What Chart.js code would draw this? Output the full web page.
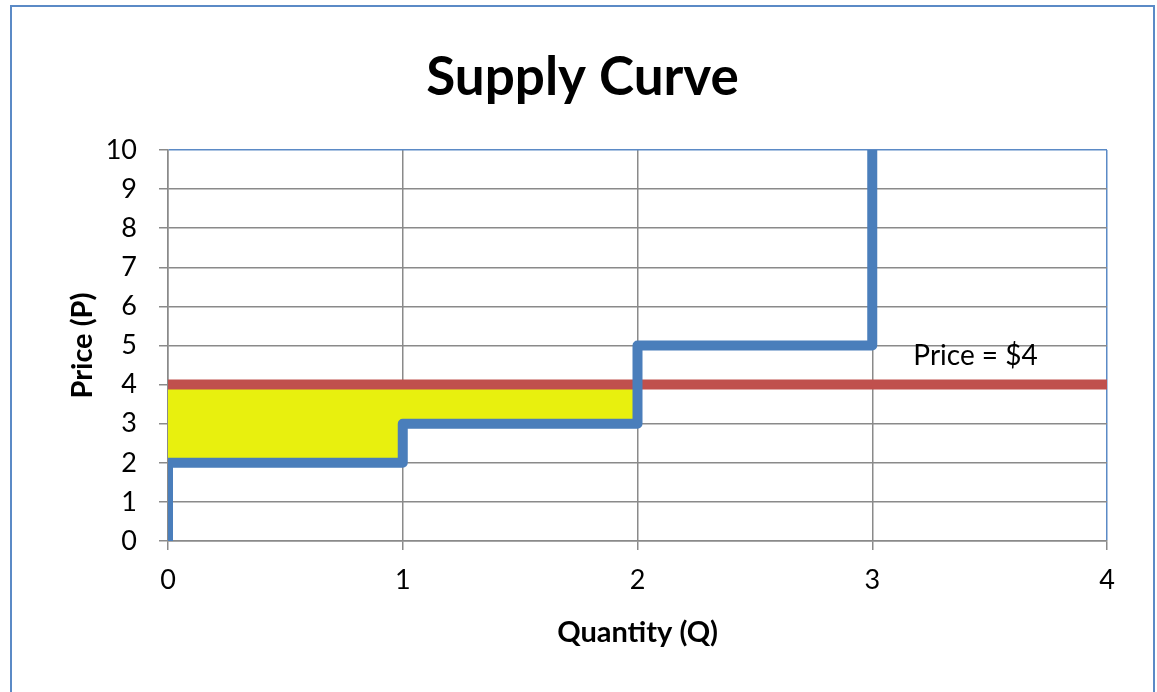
<!DOCTYPE html>
<html>
<head>
<meta charset="utf-8">
<script src="https://cdn.jsdelivr.net/npm/chart.js@4.4.1/dist/chart.umd.min.js"></script>
<style>
  body { margin: 0; background: #fff; overflow: hidden; }
  #wrap { position: relative; width: 1157px; height: 692px; }
  #frame { position: absolute; left: 10px; top: 5px; width: 1141px; height: 720px; border: 2px solid #5b8ac6; }
  canvas { position: absolute; left: 0; top: 0; }
</style>
</head>
<body>
<div id="wrap">
  <div id="frame"></div>
  <canvas id="myChart" width="1157" height="692"></canvas>
</div>
<script>
// supply curve steps
let supplyQ = [0, 0, 1, 1, 2, 2, 3, 3]
let supplyP = [0, 2, 2, 3, 3, 5, 5, 10]
// market price line
let priceQ = [0, 4]
let priceP = [4, 4]
// producer surplus (yellow), filled up to the price
let surplusQ = [0, 1, 1, 2]
let surplusP = [2, 2, 3, 3]
let precoMercado = 4
let xTicks = [0, 1, 2, 3, 4]
let yTicks = [0, 1, 2, 3, 4, 5, 6, 7, 8, 9, 10]
let rotuloPreco = "Price = $4"

function montarPontos(xs, ys) {
    let pts = []
    for (let i = 0; i < xs.length; i++) {
        pts.push({ x: xs[i], y: ys[i] })
    }
    return pts
}

const cinza = "#8a8a8a"
const azulBorda = "#5b8ac6"

// draws the "Price = $4" note at data coordinates
const rotuloPlugin = {
    id: "rotulo",
    afterDatasetsDraw(chart) {
        const ctx = chart.ctx
        const x = chart.scales.x.getPixelForValue(3.44)
        const y = chart.scales.y.getPixelForValue(4.72)
        ctx.save()
        ctx.font = "28px Lato"
        ctx.fillStyle = "#000"
        ctx.textAlign = "center"
        ctx.textBaseline = "middle"
        ctx.fillText(rotuloPreco, x, y)
        ctx.restore()
    }
}

const data = {
    datasets: [
        {
            label: "Supply",
            data: montarPontos(supplyQ, supplyP),
            borderColor: "#4a7ebb",
            borderWidth: 10,
            borderJoinStyle: "round",
            pointRadius: 0,
            fill: false,
            clip: 0,
            order: 1,
        },
        {
            label: "Price",
            data: montarPontos(priceQ, priceP),
            borderColor: "#c0504d",
            borderWidth: 10,
            pointRadius: 0,
            fill: false,
            clip: 0,
            order: 2,
        },
        {
            label: "Surplus",
            data: montarPontos(surplusQ, surplusP),
            borderWidth: 0,
            borderColor: "rgba(0,0,0,0)",
            backgroundColor: "#e8f00e",
            pointRadius: 0,
            fill: { value: precoMercado },
            clip: 0,
            order: 3,
        },
    ],
}

const config = {
    type: "line",
    data,
    plugins: [rotuloPlugin],
    options: {
        responsive: false,
        animation: false,
        layout: { padding: { left: 58, right: 50, top: 0, bottom: 41 } },
        plugins: {
            legend: { display: false },
            tooltip: { enabled: false },
            title: {
                display: true,
                text: "Supply Curve",
                color: "#000",
                font: { family: "Lato", size: 53, weight: "bold" },
                padding: { top: 46, bottom: 40.4 },
            },
        },
        scales: {
            x: {
                type: "linear",
                min: 0,
                max: 4,
                afterBuildTicks: (s) => { s.ticks = xTicks.map(v => ({ value: v })) },
                afterFit: (s) => { s.height = 110 },
                grid: {
                    color: (c) => c.tick && c.tick.value === 4 ? azulBorda : cinza,
                    tickColor: cinza,
                    lineWidth: 1.5,
                    tickLength: 9,
                },
                border: { color: cinza, width: 1.5 },
                ticks: {
                    color: "#000",
                    padding: 14,
                    font: { family: "Lato", size: 27 },
                },
                title: {
                    display: true,
                    text: "Quantity (Q)",
                    color: "#000",
                    font: { family: "Lato", size: 29, weight: "bold" },
                    padding: { top: 0, bottom: 1 },
                },
            },
            y: {
                min: 0,
                max: 10,
                afterBuildTicks: (s) => { s.ticks = yTicks.map(v => ({ value: v })) },
                afterFit: (s) => { s.width = 110 },
                grid: {
                    color: (c) => c.tick && c.tick.value === 10 ? azulBorda : cinza,
                    tickColor: cinza,
                    lineWidth: 1.5,
                    tickLength: 9,
                },
                border: { color: cinza, width: 1.5 },
                ticks: {
                    color: "#000",
                    padding: 22,
                    font: { family: "Lato", size: 27 },
                },
                title: {
                    display: true,
                    text: "Price (P)",
                    color: "#000",
                    font: { family: "Lato", size: 29, weight: "bold" },
                    padding: { top: 7, bottom: 0 },
                },
            },
        },
    },
}

const myChart = new Chart(document.getElementById("myChart").getContext("2d"), config)
</script>
</body>
</html>
